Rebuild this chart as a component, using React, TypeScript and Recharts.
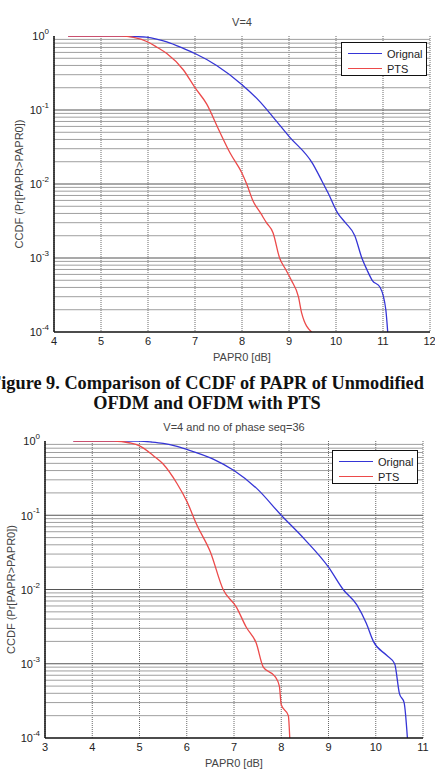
import React from "react";
import {
  LineChart,
  Line,
  XAxis,
  YAxis,
  CartesianGrid,
  ReferenceLine,
  Legend,
} from "recharts";

// Figure 1: V=4
const fig1Ticks = [4, 5, 6, 7, 8, 9, 10, 11, 12];
const fig1OrigX = [4.3, 5.0, 5.4, 5.7, 6.0, 6.2, 6.4, 6.75, 7.0, 7.46, 8.0, 8.38, 8.67, 9.0, 9.5, 9.7, 9.83, 10.04, 10.2, 10.4, 10.55, 10.66, 10.77, 10.94, 11.06, 11.1];
const fig1OrigY = [1, 1, 0.995, 0.985, 0.96, 0.9, 0.83, 0.68, 0.58, 0.4, 0.22, 0.13, 0.079, 0.044, 0.019, 0.011, 0.0076, 0.004, 0.003, 0.002, 0.001, 0.00069, 0.0005, 0.0004, 0.0002, 0.0001];
const fig1PtsX = [4.3, 5.0, 5.4, 5.69, 6.0, 6.2, 6.4, 6.75, 7.0, 7.25, 7.5, 7.75, 8.0, 8.1, 8.23, 8.4, 8.52, 8.66, 8.8, 8.93, 9.05, 9.2, 9.27, 9.48];
const fig1PtsY = [1, 1, 0.995, 0.96, 0.83, 0.7, 0.58, 0.35, 0.2, 0.12, 0.055, 0.026, 0.014, 0.01, 0.006, 0.004, 0.003, 0.0022, 0.001, 0.0007, 0.0005, 0.0003, 0.00018, 0.0001];

// Figure 2: V=4 and no of phase seq=36
const fig2Ticks = [3, 4, 5, 6, 7, 8, 9, 10, 11];
const fig2OrigX = [3.6, 4.5, 5.0, 5.25, 5.5, 5.75, 6.0, 6.56, 7.0, 7.48, 8.0, 8.5, 9.0, 9.31, 9.6, 9.8, 9.95, 10.23, 10.4, 10.5, 10.6, 10.67];
const fig2OrigY = [1, 1, 0.995, 0.97, 0.93, 0.86, 0.77, 0.57, 0.4, 0.23, 0.1, 0.047, 0.02, 0.01, 0.0062, 0.0035, 0.002, 0.0013, 0.001, 0.0004, 0.0003, 0.0001];
const fig2PtsX = [3.6, 4.45, 4.8, 5.0, 5.3, 5.5, 5.79, 6.0, 6.21, 6.5, 6.77, 7.05, 7.26, 7.47, 7.62, 7.87, 7.96, 8.0, 8.15, 8.18];
const fig2PtsY = [1, 1, 0.94, 0.86, 0.63, 0.49, 0.27, 0.155, 0.075, 0.032, 0.01, 0.0058, 0.0031, 0.0019, 0.0009, 0.00067, 0.0005, 0.00028, 0.0002, 0.0001];

const decades = [1e-4, 1e-3, 1e-2, 1e-1, 1];
const minorSteps = [2, 3, 4, 5, 6, 7, 8, 9];

const FONT = "'Liberation Sans', Arial, Helvetica, sans-serif";
const BLUE = "#3535d6";
const RED = "#ec4a4a";

const minorValues: number[] = [];
decades.slice(0, 4).forEach((d) => minorSteps.forEach((m) => minorValues.push(m * d)));
const allYTicks = [...decades, ...minorValues];

const toPoints = (xs: number[], ys: number[]) => xs.map((x, i) => ({ x, y: ys[i] }));

const PowerTick = (props: any) => {
  const { x, y, payload } = props;
  const exp = Math.round(Math.log10(payload.value));
  return (
    <text x={x} y={y} textAnchor="end" fontSize={11} fill="#222" fontFamily={FONT}>
      <tspan dy="0.4em">10</tspan>
      <tspan dy="-0.8em" fontSize={8}>
        {exp}
      </tspan>
    </text>
  );
};

const LegendBox = () => (
  <div
    style={{
      width: 86,
      height: 34,
      border: "1.5px solid #111",
      background: "#fff",
      boxSizing: "border-box",
      fontFamily: FONT,
      fontSize: 11,
      color: "#222",
      padding: "3px 0 0 6px",
    }}
  >
    {[
      { name: "Orignal", color: BLUE },
      { name: "PTS", color: RED },
    ].map((item) => (
      <div key={item.name} style={{ display: "flex", alignItems: "center", height: 15 }}>
        <span style={{ display: "inline-block", width: 34, height: 0, borderTop: `1.3px solid ${item.color}`, marginRight: 5 }} />
        <span>{item.name}</span>
      </div>
    ))}
  </div>
);

interface PanelProps {
  title: string;
  top: number;
  height: number;
  plotTop: number;
  plotLeft: number;
  plotRight: number;
  xAxisHeight: number;
  xTicks: number[];
  yLabelX: number;
  legendTop: number;
  legendLeft: number;
  orig: { x: number; y: number }[];
  pts: { x: number; y: number }[];
}

function CcdfPanel(p: PanelProps) {
  const domain: [number, number] = [p.xTicks[0], p.xTicks[p.xTicks.length - 1]];
  return (
    <div style={{ position: "absolute", left: 0, top: p.top, width: 435, height: p.height }}>
      <div
        style={{
          position: "absolute",
          left: p.plotLeft,
          width: p.plotRight - p.plotLeft,
          top: p.plotTop - 20,
          textAlign: "center",
          fontFamily: FONT,
          fontSize: 11,
          color: "#444",
        }}
      >
        {p.title}
      </div>
      <LineChart
        width={435}
        height={p.height}
        margin={{ top: p.plotTop, right: 435 - p.plotRight, bottom: 0, left: 0 }}
      >
        <CartesianGrid horizontal={false} stroke="#6a6a6a" strokeDasharray="1 1" />
        {minorValues.map((v) => (
          <ReferenceLine key={"m" + v} y={v} stroke="#949494" strokeWidth={0.9} />
        ))}
        {decades.slice(1, 4).map((v) => (
          <ReferenceLine key={"d" + v} y={v} stroke="#555" strokeWidth={1.1} />
        ))}
        <XAxis
          dataKey="x"
          type="number"
          domain={domain}
          ticks={p.xTicks}
          allowDataOverflow
          height={p.xAxisHeight}
          tickLine={false}
          tickSize={0}
          tickMargin={5}
          axisLine={{ stroke: "#111", strokeWidth: 1.5 }}
          tick={{ fontSize: 11, fill: "#222", fontFamily: FONT }}
          label={(lp: any) => {
            const vb = lp.viewBox;
            return (
              <text
                x={vb.x + vb.width / 2}
                y={vb.y + 29}
                textAnchor="middle"
                fontSize={11}
                fill="#444"
                fontFamily={FONT}
              >
                PAPR0 [dB]
              </text>
            );
          }}
        />
        <XAxis xAxisId="bm" dataKey="x" type="number" domain={domain} ticks={p.xTicks} allowDataOverflow height={0} mirror tick={false} tickSize={3} axisLine={false} tickLine={{ stroke: "#111" }} />
        <XAxis xAxisId="t" orientation="top" dataKey="x" type="number" domain={domain} ticks={p.xTicks} allowDataOverflow height={0} mirror tick={false} tickSize={3} axisLine={{ stroke: "#111", strokeWidth: 1.5 }} tickLine={{ stroke: "#111" }} />
        <YAxis
          type="number"
          scale="log"
          domain={[1e-4, 1]}
          ticks={decades}
          allowDataOverflow
          width={p.plotLeft}
          tickLine={false}
          tickSize={0}
          tickMargin={5}
          axisLine={{ stroke: "#111", strokeWidth: 1.5 }}
          tick={<PowerTick />}
          label={(lp: any) => {
            const vb = lp.viewBox;
            const cy = vb.y + vb.height / 2;
            return (
              <text
                x={p.yLabelX}
                y={cy}
                transform={`rotate(-90, ${p.yLabelX}, ${cy})`}
                textAnchor="middle"
                dominantBaseline="central"
                fontSize={11}
                fill="#444"
                fontFamily={FONT}
              >
                CCDF (Pr[PAPR&gt;PAPR0])
              </text>
            );
          }}
        />
        <YAxis yAxisId="lm" type="number" scale="log" domain={[1e-4, 1]} ticks={allYTicks} allowDataOverflow width={0} mirror tick={false} tickSize={3} axisLine={false} tickLine={{ stroke: "#111" }} />
        <YAxis yAxisId="r" orientation="right" type="number" scale="log" domain={[1e-4, 1]} ticks={allYTicks} allowDataOverflow width={0} mirror tick={false} tickSize={3} axisLine={{ stroke: "#111", strokeWidth: 1.5 }} tickLine={{ stroke: "#111" }} />
        <Legend
          layout="vertical"
          align="center"
          verticalAlign="middle"
          wrapperStyle={{ position: "absolute", top: p.legendTop, left: p.legendLeft, width: 86, height: 34 }}
          content={() => <LegendBox />}
        />
        <Line data={p.orig} dataKey="y" name="Orignal" type="monotone" stroke={BLUE} strokeWidth={1.3} dot={false} isAnimationActive={false} />
        <Line data={p.pts} dataKey="y" name="PTS" type="monotone" stroke={RED} strokeWidth={1.3} dot={false} isAnimationActive={false} />
      </LineChart>
    </div>
  );
}

export default function App() {
  return (
    <div style={{ position: "absolute", left: 0, top: 0, width: 435, height: 771, background: "#fff", overflow: "hidden" }}>
      <CcdfPanel
        title="V=4"
        top={0}
        height={365}
        plotTop={36}
        plotLeft={54}
        plotRight={430}
        xAxisHeight={33}
        xTicks={fig1Ticks}
        yLabelX={19}
        legendTop={42}
        legendLeft={341}
        orig={toPoints(fig1OrigX, fig1OrigY)}
        pts={toPoints(fig1PtsX, fig1PtsY)}
      />
      <div
        style={{
          position: "absolute",
          left: 207 - 300,
          width: 600,
          top: 373,
          textAlign: "center",
          fontFamily: "'Liberation Serif', 'Times New Roman', serif",
          fontWeight: "bold",
          fontSize: 18.3,
          lineHeight: "20px",
          color: "#111",
        }}
      >
        <div>Figure 9. Comparison of CCDF of PAPR of Unmodified</div>
        <div>OFDM and OFDM with PTS</div>
      </div>
      <CcdfPanel
        title="V=4 and no of phase seq=36"
        top={410}
        height={360}
        plotTop={31}
        plotLeft={45}
        plotRight={423}
        xAxisHeight={32}
        xTicks={fig2Ticks}
        yLabelX={11}
        legendTop={40}
        legendLeft={332}
        orig={toPoints(fig2OrigX, fig2OrigY)}
        pts={toPoints(fig2PtsX, fig2PtsY)}
      />
    </div>
  );
}
